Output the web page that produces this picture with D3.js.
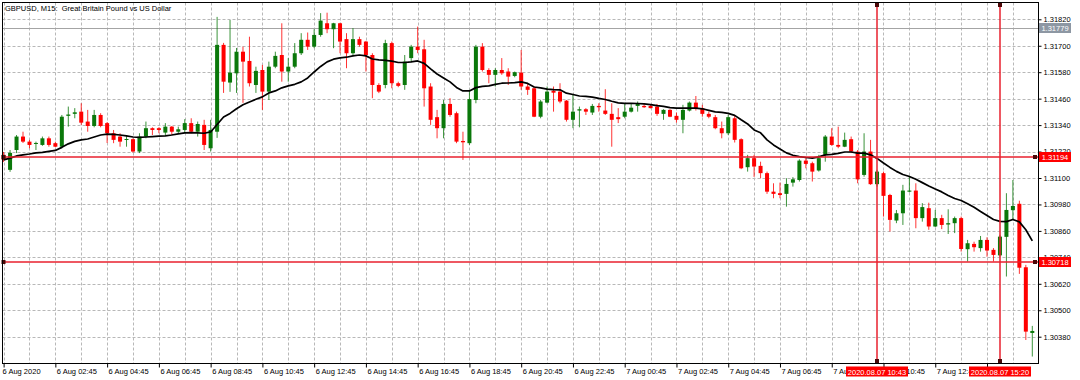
<!DOCTYPE html>
<html><head><meta charset="utf-8">
<script src="https://cdn.jsdelivr.net/npm/d3@7/dist/d3.min.js"></script>
<style>
html,body{margin:0;padding:0;background:#fff;}
svg{display:block;font-family:"Liberation Sans",Arial,sans-serif;}
</style>
</head><body>
<svg id="c" width="1080" height="380"></svg>
<script>
// ---------- data ----------
const title = "GBPUSD, M15:  Great Britain Pound vs US Dollar";
const firstBarTime = "2020.08.06 00:45";   // first visible M15 bar
const opens = [
1.31205,1.31137,1.31227,1.31288,1.31265,1.31255,1.31250,1.31280,1.31258,1.31242,
1.31382,1.31391,1.31401,1.31356,1.31336,1.31386,1.31349,1.31303,1.31288,1.31274,
1.31276,1.31220,1.31288,1.31326,1.31326,1.31306,1.31333,1.31310,1.31318,1.31349,
1.31310,1.31341,1.31235,1.31310,1.31704,1.31533,1.31575,1.31673,1.31631,1.31522,
1.31590,1.31492,1.31605,1.31658,1.31583,1.31605,1.31666,1.31727,1.31696,1.31749,
1.31802,1.31775,1.31802,1.31730,1.31666,1.31730,1.31719,1.31658,1.31522,1.31522,
1.31712,1.31530,1.31522,1.31644,1.31696,1.31684,1.31515,1.31376,1.31326,1.31436,
1.31394,1.31268,1.31258,1.31454,1.31696,1.31590,1.31568,1.31590,1.31583,1.31563,
1.31578,1.31515,1.31507,1.31378,1.31442,1.31496,1.31492,1.31451,1.31364,1.31406,
1.31412,1.31397,1.31427,1.31406,1.31391,1.31376,1.31378,1.31401,1.31427,1.31427,
1.31427,1.31424,1.31391,1.31409,1.31382,1.31364,1.31406,1.31442,1.31417,1.31391,
1.31376,1.31326,1.31303,1.31371,1.31276,1.31149,1.31190,1.31155,1.31122,1.31038,
1.31031,1.31028,1.31079,1.31091,1.31179,1.31167,1.31134,1.31205,1.31288,1.31250,
1.31242,1.31276,1.31220,1.31114,1.31220,1.31072,1.31122,1.31023,1.30907,1.30940,
1.31038,1.31043,1.30918,1.30963,1.30880,1.30918,1.30889,1.30895,1.30918,1.30777,
1.30801,1.30782,1.30819,1.30774,1.30749,1.30833,1.30954,1.30983,1.30695,1.30397];
const highs = [
1.31218,1.31227,1.31295,1.31310,1.31273,1.31265,1.31288,1.31288,1.31265,1.31386,
1.31424,1.31417,1.31439,1.31409,1.31409,1.31394,1.31354,1.31318,1.31303,1.31295,
1.31280,1.31303,1.31356,1.31330,1.31330,1.31349,1.31336,1.31333,1.31367,1.31371,
1.31356,1.31364,1.31364,1.31831,1.31713,1.31817,1.31690,1.31696,1.31741,1.31605,
1.31613,1.31628,1.31673,1.31802,1.31644,1.31712,1.31757,1.31760,1.31775,1.31848,
1.31850,1.31804,1.31804,1.31757,1.31780,1.31741,1.31722,1.31666,1.31530,1.31727,
1.31719,1.31537,1.31658,1.31704,1.31787,1.31727,1.31530,1.31409,1.31454,1.31462,
1.31401,1.31310,1.31500,1.31704,1.31712,1.31598,1.31598,1.31644,1.31598,1.31583,
1.31681,1.31530,1.31515,1.31454,1.31515,1.31515,1.31530,1.31454,1.31477,1.31424,
1.31417,1.31436,1.31439,1.31503,1.31439,1.31417,1.31439,1.31439,1.31447,1.31436,
1.31434,1.31436,1.31412,1.31412,1.31397,1.31432,1.31447,1.31472,1.31432,1.31401,
1.31386,1.31356,1.31386,1.31382,1.31280,1.31205,1.31205,1.31174,1.31129,1.31076,
1.31079,1.31099,1.31104,1.31185,1.31190,1.31174,1.31205,1.31295,1.31326,1.31333,
1.31306,1.31288,1.31227,1.31303,1.31273,1.31137,1.31129,1.31028,1.30955,1.31069,
1.31110,1.31076,1.30986,1.30988,1.30955,1.30933,1.30958,1.30925,1.30925,1.30819,
1.30811,1.30837,1.30831,1.30782,1.30842,1.31031,1.31091,1.30997,1.30706,1.30429];
const lows = [
1.31173,1.31128,1.31213,1.31259,1.31235,1.31227,1.31246,1.31242,1.31240,1.31235,
1.31333,1.31371,1.31341,1.31310,1.31330,1.31330,1.31259,1.31258,1.31242,1.31242,
1.31215,1.31213,1.31280,1.31295,1.31303,1.31295,1.31295,1.31303,1.31303,1.31303,
1.31288,1.31227,1.31220,1.31282,1.31486,1.31491,1.31486,1.31441,1.31515,1.31486,
1.31409,1.31454,1.31598,1.31537,1.31537,1.31598,1.31658,1.31681,1.31689,1.31741,
1.31757,1.31689,1.31666,1.31598,1.31658,1.31696,1.31583,1.31462,1.31485,1.31507,
1.31507,1.31512,1.31500,1.31628,1.31666,1.31424,1.31341,1.31280,1.31280,1.31378,
1.31258,1.31182,1.31250,1.31439,1.31583,1.31530,1.31515,1.31568,1.31522,1.31557,
1.31500,1.31477,1.31376,1.31371,1.31439,1.31401,1.31439,1.31356,1.31326,1.31330,
1.31386,1.31386,1.31401,1.31386,1.31242,1.31349,1.31371,1.31397,1.31401,1.31418,
1.31416,1.31382,1.31364,1.31376,1.31351,1.31303,1.31402,1.31406,1.31378,1.31371,
1.31321,1.31280,1.31295,1.31261,1.31140,1.31129,1.31105,1.31099,1.31028,1.31008,
1.31008,1.30970,1.31061,1.31084,1.31144,1.31084,1.31129,1.31174,1.31246,1.31235,
1.31240,1.31213,1.31076,1.31106,1.31069,1.31061,1.30925,1.30857,1.30895,1.30887,
1.31035,1.30872,1.30902,1.30865,1.30877,1.30868,1.30846,1.30850,1.30766,1.30721,
1.30766,1.30766,1.30743,1.30721,1.30743,1.30653,1.30913,1.30665,1.30365,1.30290];
const closes = [
1.31182,1.31214,1.31288,1.31265,1.31250,1.31259,1.31280,1.31250,1.31242,1.31378,
1.31388,1.31398,1.31351,1.31336,1.31386,1.31336,1.31303,1.31273,1.31265,1.31277,
1.31220,1.31288,1.31326,1.31318,1.31318,1.31333,1.31310,1.31321,1.31349,1.31310,
1.31345,1.31250,1.31318,1.31704,1.31537,1.31578,1.31673,1.31628,1.31530,1.31586,
1.31492,1.31605,1.31654,1.31583,1.31605,1.31666,1.31727,1.31696,1.31749,1.31814,
1.31775,1.31802,1.31719,1.31666,1.31730,1.31704,1.31658,1.31522,1.31492,1.31712,
1.31530,1.31518,1.31628,1.31696,1.31681,1.31507,1.31364,1.31326,1.31436,1.31386,
1.31265,1.31262,1.31458,1.31696,1.31590,1.31568,1.31590,1.31575,1.31560,1.31580,
1.31515,1.31500,1.31378,1.31447,1.31492,1.31487,1.31447,1.31364,1.31401,1.31412,
1.31401,1.31427,1.31421,1.31391,1.31364,1.31367,1.31401,1.31419,1.31436,1.31421,
1.31417,1.31391,1.31409,1.31378,1.31364,1.31409,1.31442,1.31417,1.31391,1.31378,
1.31326,1.31303,1.31376,1.31273,1.31144,1.31190,1.31152,1.31122,1.31038,1.31028,
1.31023,1.31073,1.31094,1.31179,1.31164,1.31129,1.31190,1.31288,1.31250,1.31242,
1.31273,1.31220,1.31094,1.31220,1.31072,1.31129,1.31019,1.30910,1.30940,1.31043,
1.31043,1.30918,1.30968,1.30880,1.30918,1.30887,1.30895,1.30918,1.30778,1.30804,
1.30786,1.30819,1.30771,1.30751,1.30834,1.30955,1.30973,1.30693,1.30403,1.30406];
const maValues = [
1.31182,1.31190,1.31200,1.31205,1.31209,1.31214,1.31216,1.31221,1.31225,1.31239,
1.31255,1.31266,1.31273,1.31277,1.31286,1.31295,1.31299,1.31298,1.31295,1.31291,
1.31286,1.31284,1.31286,1.31288,1.31290,1.31291,1.31295,1.31300,1.31305,1.31306,
1.31305,1.31303,1.31309,1.31343,1.31377,1.31393,1.31414,1.31432,1.31445,1.31457,
1.31468,1.31486,1.31495,1.31509,1.31518,1.31525,1.31536,1.31554,1.31581,1.31606,
1.31627,1.31639,1.31645,1.31648,1.31654,1.31658,1.31654,1.31640,1.31636,1.31634,
1.31630,1.31624,1.31624,1.31627,1.31631,1.31620,1.31595,1.31572,1.31554,1.31536,
1.31511,1.31495,1.31495,1.31510,1.31516,1.31518,1.31525,1.31530,1.31531,1.31533,
1.31536,1.31529,1.31513,1.31509,1.31503,1.31501,1.31500,1.31485,1.31479,1.31472,
1.31470,1.31467,1.31461,1.31456,1.31448,1.31441,1.31439,1.31439,1.31438,1.31436,
1.31433,1.31428,1.31425,1.31419,1.31417,1.31417,1.31417,1.31417,1.31414,1.31407,
1.31400,1.31398,1.31393,1.31384,1.31364,1.31345,1.31318,1.31305,1.31273,1.31250,
1.31232,1.31214,1.31203,1.31197,1.31193,1.31190,1.31196,1.31205,1.31207,1.31212,
1.31218,1.31218,1.31213,1.31213,1.31205,1.31189,1.31168,1.31148,1.31130,1.31116,
1.31107,1.31094,1.31079,1.31064,1.31050,1.31037,1.31021,1.31007,1.30998,1.30983,
1.30967,1.30948,1.30930,1.30912,1.30903,1.30902,1.30912,1.30901,1.30865,1.30815];
const priceTicks = [1.30380,1.30500,1.30620,1.30740,1.30860,1.30980,1.31100,1.31220,1.31340,1.31460,1.31580,1.31700,1.31820];
const hLineLevels = [1.31194, 1.30718];
const askLevel = 1.31779;
const vLineTimes = ["2020.08.07 10:43", "2020.08.07 15:20"];

// ---------- layout ----------
const L = 2.5, R = 1038.5, T = 2.5, B = 363.5;
const FS = 7.5;
const GREEN = "#0a780a", RED = "#ff0000", LINE_RED = "#e8202e", MARK = "#4a0808";

const svg = d3.select("#c");
const parse = d3.timeParse("%Y.%m.%d %H:%M");
const t0 = parse(firstBarTime);
const times = opens.map((_, i) => d3.timeMinute.offset(t0, 15 * i));
const bars = times.map((t, i) => ({t, o: opens[i], h: highs[i], l: lows[i], c: closes[i], ma: maValues[i]}));

const x = d3.scaleTime().domain([times[0], times[times.length - 1]]).range([3.6, 1032.3]);
const y = d3.scaleLinear().domain([1.30380, 1.31820]).range([336.7, 19.3]);
const snap = v => Math.round(v) + 0.5;

svg.append("rect").attr("width", 1080).attr("height", 380).attr("fill", "#fff");

// ---------- grid ----------
const grid = svg.append("g").attr("stroke", "#b8b8b8").attr("stroke-width", 1).attr("stroke-dasharray", "3,2");
priceTicks.forEach(p => {
  grid.append("line").attr("x1", L).attr("x2", R).attr("y1", snap(y(p))).attr("y2", snap(y(p)));
});
const hourTicks = [];
for (let j = 0; ; j++) { const t = d3.timeMinute.offset(times[0], 60 * j); if (x(t) > R) break; hourTicks.push(t); }
hourTicks.forEach(t => {
  const xv = snap(x(t));
  if (xv > L + 1) grid.append("line").attr("x1", xv).attr("x2", xv).attr("y1", T).attr("y2", B);
});

// ---------- ask (gray) line ----------
svg.append("line").attr("x1", L).attr("x2", R).attr("y1", snap(y(askLevel))).attr("y2", snap(y(askLevel)))
  .attr("stroke", "#a4a4a4").attr("stroke-width", 1);

// ---------- candles ----------
const cg = svg.append("g");
const bw = 4;
bars.forEach(d => {
  const up = d.c >= d.o;
  const col = up ? GREEN : RED;
  const xc = x(d.t);
  cg.append("line").attr("x1", xc).attr("x2", xc).attr("y1", y(d.h)).attr("y2", y(d.l))
    .attr("stroke", col).attr("stroke-width", 1).attr("stroke-opacity", 0.8);
  const yt = y(Math.max(d.o, d.c)), yb = y(Math.min(d.o, d.c));
  cg.append("rect").attr("x", xc - bw / 2).attr("width", bw)
    .attr("y", yt).attr("height", Math.max(1, yb - yt)).attr("fill", col);
});

// ---------- moving average ----------
svg.append("path").datum(bars)
  .attr("d", d3.line().x(d => x(d.t)).y(d => y(d.ma)))
  .attr("fill", "none").attr("stroke", "#000").attr("stroke-width", 1.7).attr("stroke-linejoin", "round");

// ---------- red horizontal lines ----------
hLineLevels.forEach(p => {
  const yv = Math.round(y(p));
  svg.append("line").attr("x1", L).attr("x2", R).attr("y1", yv).attr("y2", yv)
    .attr("stroke", LINE_RED).attr("stroke-width", 1.5);
  svg.append("rect").attr("x", 1.5).attr("y", yv - 2).attr("width", 4).attr("height", 4).attr("fill", MARK);
  svg.append("rect").attr("x", 1033).attr("y", yv - 2).attr("width", 4).attr("height", 4).attr("fill", MARK);
});

// ---------- red vertical lines ----------
const vTimes = vLineTimes.map(s => d3.timeMinute.every(15).floor(parse(s)));
vTimes.forEach(t => {
  const xv = Math.round(x(t));
  svg.append("line").attr("x1", xv).attr("x2", xv).attr("y1", T).attr("y2", B)
    .attr("stroke", LINE_RED).attr("stroke-width", 1.5);
  svg.append("rect").attr("x", xv - 2).attr("y", T + 0.5).attr("width", 4).attr("height", 4).attr("fill", MARK);
  svg.append("rect").attr("x", xv - 2).attr("y", B - 4.5).attr("width", 4).attr("height", 4).attr("fill", MARK);
});

// ---------- frame ----------
svg.append("rect").attr("x", L).attr("y", T).attr("width", R - L).attr("height", B - T)
  .attr("fill", "none").attr("stroke", "#000").attr("stroke-width", 1);

// ---------- title ----------
svg.append("text").attr("x", 5).attr("y", 10.5).attr("font-size", FS).attr("fill", "#000")
  .attr("xml:space", "preserve").style("white-space", "pre").text(title);

// ---------- right axis ----------
const yAxis = d3.axisRight(y).tickValues(priceTicks).tickFormat(d3.format(".5f")).tickSize(3).tickPadding(2);
const gy = svg.append("g").attr("transform", `translate(${R},0)`).call(yAxis);
gy.select(".domain").remove();
gy.selectAll("line").attr("stroke", "#000");
gy.selectAll("text").attr("font-size", FS).attr("font-family", "Liberation Sans, Arial, sans-serif").attr("fill", "#000");

// ---------- bottom axis ----------
const xTicks = [];
for (let j = 0; ; j++) { const t = d3.timeMinute.offset(times[0], 120 * j); if (x(t) > R) break; xTicks.push(t); }
const fFirst = d3.timeFormat("%-d %b %Y"), fOther = d3.timeFormat("%-d %b %H:%M");
const xAxis = d3.axisBottom(x).tickValues(xTicks)
  .tickFormat((d, i) => i === 0 ? fFirst(d) : fOther(d)).tickSize(4);
const gx = svg.append("g").attr("transform", `translate(0,${B})`).call(xAxis);
gx.select(".domain").remove();
gx.selectAll("line").attr("stroke", "#000");
gx.selectAll("text").attr("font-size", FS).attr("font-family", "Liberation Sans, Arial, sans-serif")
  .attr("fill", "#000").attr("text-anchor", "start").attr("dy", null).attr("y", 10.8).attr("x", (d, i) => i === 0 ? -1.5 : 1);

// ---------- price labels on the right ----------
function priceBox(p, bg) {
  const yv = Math.round(y(p));
  svg.append("rect").attr("x", 1039).attr("y", yv - 5).attr("width", 32).attr("height", 10).attr("fill", bg);
  svg.append("text").attr("x", 1055).attr("y", yv).attr("dy", "0.35em").attr("text-anchor", "middle")
    .attr("font-size", FS).attr("fill", "#fff").text(d3.format(".5f")(p));
}
priceBox(askLevel, "#8d97a3");
hLineLevels.forEach(p => priceBox(p, "#ff0000"));

// ---------- time labels of vertical lines ----------
const fBox = d3.timeFormat("%Y.%m.%d %H:%M");
vLineTimes.forEach((s, i) => {
  const xv = Math.round(x(vTimes[i]));
  svg.append("rect").attr("x", xv - 31).attr("y", 366.5).attr("width", 62).attr("height", 10).attr("fill", "#ff0000");
  svg.append("text").attr("x", xv).attr("y", 374.5).attr("text-anchor", "middle")
    .attr("font-size", FS).attr("fill", "#fff").text(fBox(parse(s)));
});
</script>
</body></html>
